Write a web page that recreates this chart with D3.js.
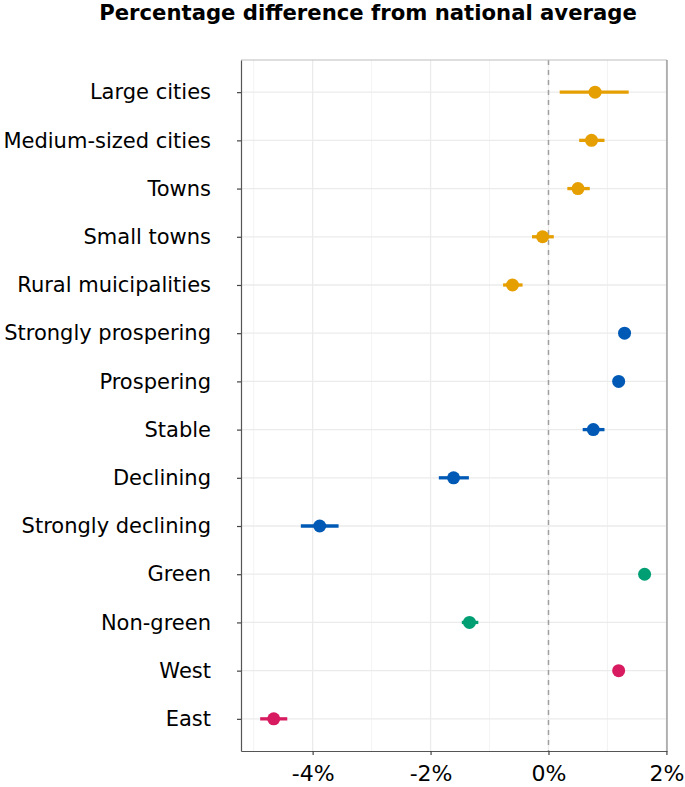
<!DOCTYPE html>
<html>
<head>
<meta charset="utf-8">
<script src="https://cdn.jsdelivr.net/npm/d3@7"></script>
<style>
  body { margin: 0; background: #fff; }
  svg { display: block; }
  svg text { font-family: "DejaVu Sans", Verdana, sans-serif; }
</style>
</head>
<body>
<svg id="chart" width="685" height="787"></svg>
<script>
const categories = ['Large cities', 'Medium-sized cities', 'Towns', 'Small towns', 'Rural muicipalities',
  'Strongly prospering', 'Prospering', 'Stable', 'Declining', 'Strongly declining',
  'Green', 'Non-green', 'West', 'East'];
const groups   = ['size', 'size', 'size', 'size', 'size',
  'econ', 'econ', 'econ', 'econ', 'econ',
  'green', 'green', 'region', 'region'];
const estimate = [0.79, 0.73, 0.50, -0.10, -0.61, 1.29, 1.19, 0.76, -1.61, -3.88, 1.63, -1.34, 1.19, -4.66];
const lower    = [0.19, 0.52, 0.32, -0.28, -0.77, 1.22, 1.12, 0.58, -1.86, -4.20, 1.56, -1.47, 1.12, -4.89];
const upper    = [1.36, 0.95, 0.70, 0.09, -0.44, 1.36, 1.26, 0.95, -1.35, -3.56, 1.70, -1.19, 1.26, -4.43];
const xTicks   = [-4, -2, 0, 2];
const xMinor   = [-5, -3, -1, 1];
const colours  = {size: '#E69F00', econ: '#005AB5', green: '#009E73', region: '#D81B60'};

const rows = categories.map((c, i) => ({name: c, group: groups[i], est: estimate[i], lo: lower[i], hi: upper[i]}));

const svg = d3.select('#chart');
const panel = {left: 241, right: 667, top: 60, bottom: 751};

const x = d3.scaleLinear().domain([-5.215, 2.01]).range([panel.left, panel.right]);
const y = d3.scalePoint().domain(categories).range([panel.top, panel.bottom]).padding(0.667);

// grid
const grid = svg.append('g');
grid.selectAll('.minor').data(xMinor).join('line')
    .attr('x1', d => x(d)).attr('x2', d => x(d))
    .attr('y1', panel.top).attr('y2', panel.bottom)
    .attr('stroke', '#f0f0f0').attr('stroke-width', 0.8);
grid.selectAll('.major').data(xTicks).join('line')
    .attr('x1', d => x(d)).attr('x2', d => x(d))
    .attr('y1', panel.top).attr('y2', panel.bottom)
    .attr('stroke', '#ebebeb').attr('stroke-width', 1.3);
grid.selectAll('.hrow').data(categories).join('line')
    .attr('x1', panel.left).attr('x2', panel.right)
    .attr('y1', d => y(d)).attr('y2', d => y(d))
    .attr('stroke', '#ebebeb').attr('stroke-width', 1.3);

// zero line
svg.append('line')
    .attr('x1', x(0)).attr('x2', x(0))
    .attr('y1', panel.top).attr('y2', panel.bottom)
    .attr('stroke', '#a0a0a0').attr('stroke-width', 1.5)
    .attr('stroke-dasharray', '5,5');

// panel border
svg.append('line').attr('x1', panel.left).attr('x2', panel.right)
    .attr('y1', panel.top).attr('y2', panel.top).attr('stroke', '#bdbdbd').attr('stroke-width', 1.2);
svg.append('line').attr('x1', panel.right).attr('x2', panel.right)
    .attr('y1', panel.top).attr('y2', panel.bottom).attr('stroke', '#888').attr('stroke-width', 1.2);

// axes
const xAxis = svg.append('g')
    .attr('transform', `translate(0,${panel.bottom})`)
    .call(d3.axisBottom(x).tickValues(xTicks).tickSize(4).tickSizeOuter(0).tickFormat(d => d + '%'));
xAxis.attr('font-family', null);
xAxis.select('.domain').attr('stroke', '#555').attr('stroke-width', 1.2);
xAxis.selectAll('.tick line').attr('stroke', '#444').attr('stroke-width', 1.2);
xAxis.selectAll('.tick text').attr('font-size', 22).attr('fill', '#000')
    .attr('y', 30).attr('dy', 0);

const yAxis = svg.append('g')
    .attr('transform', `translate(${panel.left},0)`)
    .call(d3.axisLeft(y).tickSize(4).tickSizeOuter(0).tickPadding(26));
yAxis.attr('font-family', null);
yAxis.select('.domain').attr('stroke', '#555').attr('stroke-width', 1.2);
yAxis.selectAll('.tick line').attr('stroke', '#444').attr('stroke-width', 1.2);
yAxis.selectAll('.tick text').attr('font-size', 21).attr('fill', '#000');

// error bars and points
const marks = svg.append('g');
marks.selectAll('.ci').data(rows).join('line')
    .attr('x1', d => x(d.lo)).attr('x2', d => x(d.hi))
    .attr('y1', d => y(d.name)).attr('y2', d => y(d.name))
    .attr('stroke', d => colours[d.group]).attr('stroke-width', 3.3);
marks.selectAll('.pt').data(rows).join('circle')
    .attr('cx', d => x(d.est)).attr('cy', d => y(d.name)).attr('r', 6.5)
    .attr('fill', d => colours[d.group]);

// title
svg.append('text')
    .attr('x', 368).attr('y', 20)
    .attr('text-anchor', 'middle')
    .attr('font-size', 21.2).attr('font-weight', 'bold')
    .text('Percentage difference from national average');
</script>
</body>
</html>
